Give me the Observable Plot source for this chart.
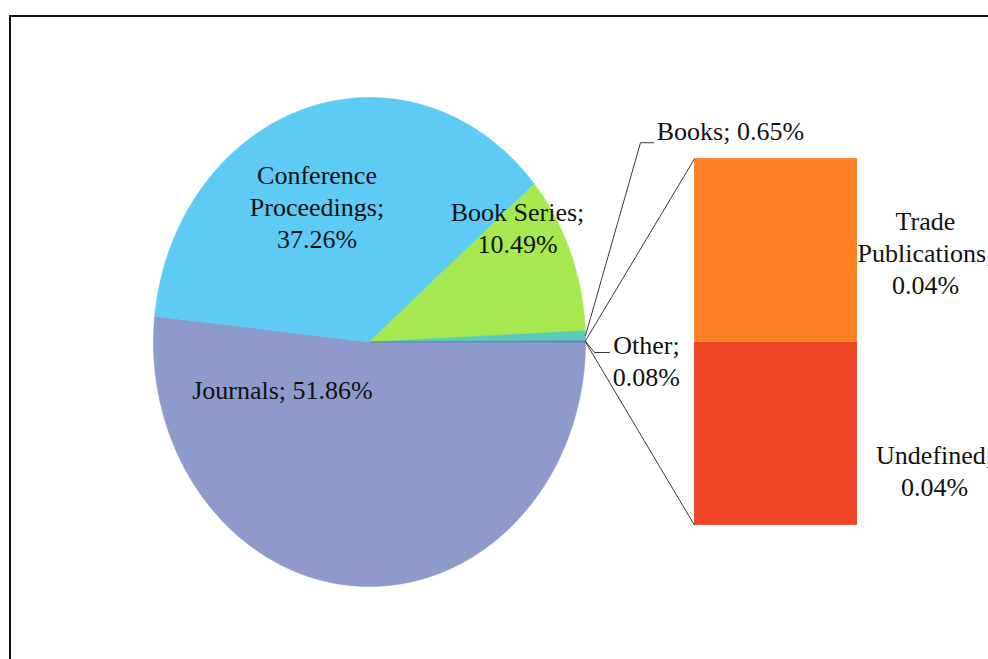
<!DOCTYPE html>
<html><head><meta charset="utf-8">
<script src="https://cdn.jsdelivr.net/npm/d3@7"></script>
<script src="https://cdn.jsdelivr.net/npm/@observablehq/plot@0.6"></script>
<style>
html,body{margin:0;padding:0;background:#fff;overflow:hidden;width:988px;height:659px;}
#wrap{position:relative;width:988px;height:659px;overflow:hidden;}
#chart{position:absolute;left:0;top:0;}
#border{position:absolute;left:9px;top:15px;width:1100px;height:800px;border-top:2px solid #111;border-left:2px solid #111;pointer-events:none;}
</style></head><body>
<div id="wrap"><div id="chart"></div><div id="border"></div></div>
<script>
// ---- data ----
const categories = ["Journals", "Conference Proceedings", "Book Series", "Books", "Other"];
const shares = [51.86, 37.26, 10.49, 0.65, 0.08];
const otherCategories = ["Undefined", "Trade Publications"]; // bottom to top in the bar
const otherShares = [0.04, 0.04];
const colors = ["#8E9ACB", "#5DCBF3", "#A5E84F", "#5BCBB7", "#5E7FC0", "#F04426", "#FF7F24"];

// ---- layout (chart units: pie radius = 1) ----
const W = 988, H = 659;
const cx = 369, cy = 341.5, rx = 216, ry = 244.5;
const bar = {x1: 1.505, x2: 2.259, half: 0.75};
// label placement, wrap: "none" | "value" (break before value) | "words" (break at every space)
const labelLayout = [
  {name: "Journals", x: -0.403, y: -0.193, anchor: "middle", wrap: "none"},
  {name: "Conference Proceedings", x: -0.243, y: 0.557, anchor: "middle", wrap: "words"},
  {name: "Book Series", x: 0.685, y: 0.471, anchor: "middle", wrap: "value"},
  {name: "Books", x: 1.330, y: 0.870, anchor: "start", wrap: "none", elbow: [1.2546, 0.815], end: 1.315},
  {name: "Other", x: 1.282, y: -0.074, anchor: "middle", wrap: "value", elbow: [1.0417, -0.043], end: 1.111},
  {name: "Trade Publications", x: 2.574, y: 0.369, anchor: "middle", wrap: "words"},
  {name: "Undefined", x: 2.616, y: -0.5215, anchor: "middle", wrap: "value"}
];

// ---- derived ----
const pieData = categories.map((c, i) => ({category: c, value: shares[i]}));
const arcs = d3.pie().value(d => d.value).sort(null)
  .startAngle(Math.PI / 2).endAngle(Math.PI / 2 + 2 * Math.PI)(pieData);
const pt = t => ({x: Math.sin(t), y: Math.cos(t)});
const slicePts = arcs.flatMap(a => {
  const c = a.data.category;
  const n = Math.max(2, Math.ceil((a.endAngle - a.startAngle) / (Math.PI / 360)));
  const pts = [{category: c, x: 0, y: 0}];
  for (let k = 0; k <= n; k++) pts.push({category: c, ...pt(a.startAngle + (a.endAngle - a.startAngle) * k / n)});
  pts.push({category: c, x: 0, y: 0});
  return pts;
});

const otherTotal = d3.sum(otherShares);
const barY = d3.scaleLinear().domain([0, otherTotal]).range([-bar.half, bar.half]);
let cum = 0;
const barData = otherCategories.map((c, i) => {
  const r = {category: c, value: otherShares[i], y1: barY(cum), y2: barY(cum + otherShares[i])};
  cum += otherShares[i];
  return r;
});

const otherArc = arcs.find(a => a.data.category === "Other");
const pStart = pt(otherArc.startAngle), pEnd = pt(otherArc.endAngle);
const connectors = [
  {x1: pStart.x, y1: pStart.y, x2: bar.x1, y2: bar.half},
  {x1: pEnd.x, y1: pEnd.y, x2: bar.x1, y2: -bar.half}
];

const valueOf = Object.fromEntries([
  ...categories.map((c, i) => [c, shares[i]]),
  ...otherCategories.map((c, i) => [c, otherShares[i]])
]);
const labels = labelLayout.map(l => {
  const v = valueOf[l.name].toFixed(2) + "%";
  let text;
  if (l.wrap === "none") text = `${l.name}; ${v}`;
  else if (l.wrap === "value") text = `${l.name};\n${v}`;
  else text = `${l.name};`.split(" ").join("\n") + "\n" + v;
  return {...l, text};
});

const leaders = labelLayout.filter(l => l.elbow).flatMap(l => {
  const a = arcs.find(d => d.data.category === l.name);
  const p = pt((a.startAngle + a.endAngle) / 2);
  return [
    {name: l.name, x: p.x, y: p.y},
    {name: l.name, x: l.elbow[0], y: l.elbow[1]},
    {name: l.name, x: l.end, y: l.elbow[1]}
  ];
});

const font = {fontFamily: "Liberation Serif", fontSize: 26, lineHeight: 1.23, fill: "#111"};

const chart = Plot.plot({
  width: W, height: H,
  marginTop: 0, marginRight: 0, marginBottom: 0, marginLeft: 0,
  style: {background: "transparent", overflow: "hidden", fontFamily: "Liberation Serif"},
  x: {domain: [-cx / rx, (W - cx) / rx], axis: null},
  y: {domain: [(cy - H) / ry, cy / ry], axis: null},
  color: {domain: [...categories, ...otherCategories], range: colors},
  marks: [
    Plot.line(slicePts, {x: "x", y: "y", z: "category", fill: "category", stroke: "category", strokeWidth: 0.6, curve: "linear"}),
    Plot.rect(barData, {x1: () => bar.x1, x2: () => bar.x2, y1: "y1", y2: "y2", fill: "category"}),
    Plot.link(connectors, {x1: "x1", y1: "y1", x2: "x2", y2: "y2", stroke: "#3a3a3a", strokeWidth: 1}),
    Plot.line(leaders, {x: "x", y: "y", z: "name", stroke: "#3a3a3a", strokeWidth: 1}),
    Plot.text(labels.filter(d => d.anchor === "middle"), {x: "x", y: "y", text: "text", textAnchor: "middle", ...font}),
    Plot.text(labels.filter(d => d.anchor === "start"), {x: "x", y: "y", text: "text", textAnchor: "start", ...font})
  ]
});
document.getElementById("chart").appendChild(chart);
</script>
</body></html>
